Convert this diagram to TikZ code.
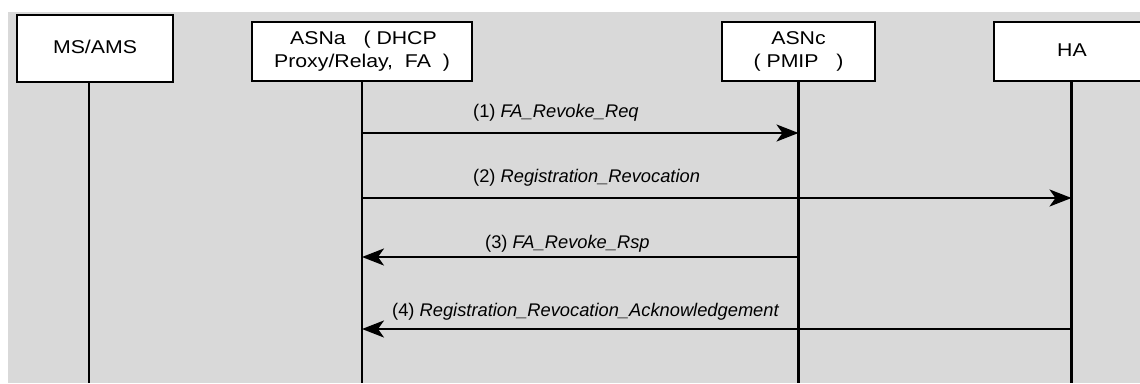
\documentclass[tikz,border=0pt]{standalone}
\usepackage{fontspec}
\setmainfont{Liberation Sans}
\usetikzlibrary{arrows.meta}
\newcommand\widetxt[2][c]{\scalebox{1.15}[1]{\begin{tabular}{@{}#1@{}}#2\end{tabular}}}
\begin{document}
\begin{tikzpicture}[x=1pt,y=-1pt,
  entity/.style={draw=black,line width=2pt,fill=white,inner sep=0pt,
    font=\fontsize{18.5}{23}\selectfont},
  lifeline/.style={line width=2.2pt},
  msg/.style={line width=2.5pt,-{Stealth[length=22pt,width=17pt,inset=6pt]}},
  msglabel/.style={anchor=base west,inner sep=0pt,font=\fontsize{18.3}{22}\selectfont}]
\useasboundingbox (0,0) rectangle (1140,383);
\fill[gray!30!white,fill={rgb,255:red,217;green,217;blue,217}] (7.5,11.5) rectangle (1140,383);
\begin{scope}
\clip (0,0) rectangle (1140,383);
% entities
\node[entity,minimum width=156pt,minimum height=67pt] (ms) at (95,48.5) {\widetxt{MS/AMS}};
\node[entity,minimum width=220pt,minimum height=59pt] (asna) at (362,51.5)
  {\widetxt[l]{\hspace*{14pt}ASNa\ \ \ ( DHCP\\Proxy/Relay,\ \ FA\ \ )}};
\node[entity,minimum width=153pt,minimum height=59pt] (asnc) at (798.5,51.5)
  {\widetxt{ASNc\\( PMIP\ \ \ )}};
\node[entity,minimum width=156pt,minimum height=59pt] (ha) at (1072,51.5) {\widetxt{HA}};
% lifeline ends
\coordinate (msEnd) at (89,383);
\coordinate (asnaEnd) at (362,383);
\coordinate (asncEnd) at (798.5,383);
\coordinate (haEnd) at (1071.5,383);
\draw[lifeline] (ms.south -| msEnd) -- (msEnd);
\draw[lifeline] (asna.south -| asnaEnd) -- (asnaEnd);
\draw[lifeline] (asnc.south -| asncEnd) -- (asncEnd);
\draw[lifeline] (ha.south -| haEnd) -- (haEnd);
% message rows
\coordinate (r1) at (0,133);
\coordinate (r2) at (0,198);
\coordinate (r3) at (0,257);
\coordinate (r4) at (0,329);
\draw[msg] (asnaEnd |- r1) -- (asncEnd |- r1);
\draw[msg] (asnaEnd |- r2) -- (haEnd |- r2);
\draw[msg] (asncEnd |- r3) -- (asnaEnd |- r3);
\draw[msg] (haEnd |- r4) -- (asnaEnd |- r4);
% message labels
\node[msglabel] (l1) at (473,117) {(1) \textit{FA\_Revoke\_Req}};
\node[msglabel] (l2) at (473,182) {(2) \textit{Registration\_Revocation}};
\node[msglabel] (l3) at (485,248) {(3) \textit{FA\_Revoke\_Rsp}};
\node[msglabel] (l4) at (392,316) {(4) \textit{Registration\_Revocation\_Acknowledgement}};
\end{scope}
\end{tikzpicture}
\end{document}
